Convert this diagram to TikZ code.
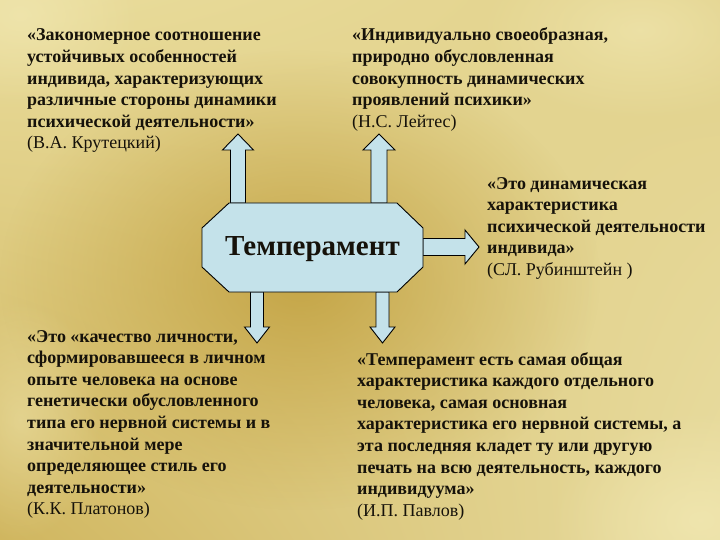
\documentclass[tikz,border=0pt]{standalone}
\usepackage{fontspec}
\setmainfont{Liberation Serif}
\usetikzlibrary{fadings,shadings}
\tikzfading[name=softblob, inner color=transparent!0, outer color=transparent!100]
\definecolor{bgA}{RGB}{233,220,155}
\definecolor{bgB}{RGB}{226,210,140}
\definecolor{bgC}{RGB}{208,182,95}
\definecolor{bgD}{RGB}{232,220,160}
\definecolor{bgDark}{RGB}{190,155,55}
\definecolor{bgLight}{RGB}{240,230,175}
\definecolor{abox}{RGB}{196,226,234}
\definecolor{textc}{RGB}{22,18,10}
\tikzset{
  txt/.style={anchor=base west, align=left, inner sep=0pt,
    font=\fontsize{18}{21.6}\selectfont\bfseries, text=textc},
  barrow/.style={fill=abox, draw=black, line width=0.9pt, line join=miter},
}
\begin{document}
\begin{tikzpicture}[x=1pt,y=-1pt]
\useasboundingbox (0,0) rectangle (720,540);
% background
\shade[upper left=bgA, upper right=bgB, lower left=bgC, lower right=bgD] (0,0) rectangle (720,540);
\fill[bgDark, path fading=softblob, fill opacity=0.8] (300,280) ellipse (300 and 230);
\fill[bgLight, path fading=softblob, fill opacity=0.8] (20,15) ellipse (120 and 90);
\fill[bgLight, path fading=softblob, fill opacity=0.7] (640,30) ellipse (160 and 90);
\fill[bgLight, path fading=softblob, fill opacity=0.9] (700,520) ellipse (150 and 110);
\fill[bgLight, path fading=softblob, fill opacity=0.5] (20,420) ellipse (80 and 120);

% arrows
\draw[barrow] (230.5,203) -- (230.5,150) -- (222.5,150) -- (238,134) -- (253.5,150) -- (245.5,150) -- (245.5,203) -- cycle;
\draw[barrow] (371,203) -- (371,150) -- (363,150) -- (379,134) -- (395,150) -- (387,150) -- (387,203) -- cycle;
\draw[barrow] (250.5,292) -- (250.5,327) -- (244.5,327) -- (257,343) -- (269.5,327) -- (263.5,327) -- (263.5,292) -- cycle;
\draw[barrow] (376,292) -- (376,327) -- (370,327) -- (382.5,343) -- (395,327) -- (389,327) -- (389,292) -- cycle;
\draw[barrow] (423,238.5) -- (465,238.5) -- (465,230) -- (479,247) -- (465,264) -- (465,255.5) -- (423,255.5) -- cycle;

% octagon
\draw[barrow] (229,203) -- (397,203) -- (423,228) -- (423,267) -- (397,292) -- (229,292) -- (202,267) -- (202,228) -- cycle;
\node[font=\fontsize{29}{30}\selectfont\bfseries, text=textc, anchor=base, inner sep=0pt] (temp) at (312.5,255) {Темперамент};

% texts (base anchor = baseline of the last line)
\node[txt] (q1) at (27,149) {«Закономерное соотношение\\устойчивых особенностей\\индивида, характеризующих\\различные стороны динамики\\психической деятельности»\\{\mdseries (В.А. Крутецкий)}};
\node[txt] (q2) at (352,127.4) {«Индивидуально своеобразная,\\природно обусловленная\\совокупность динамических\\проявлений психики»\\{\mdseries (Н.С. Лейтес)}};
\node[txt] (q3) at (487,275.5) {«Это динамическая\\характеристика\\психической деятельности\\индивида»\\{\mdseries (СЛ. Рубинштейн )}};
\node[txt] (q4) at (27,514.8) {«Это «качество личности,\\сформировавшееся в личном\\опыте человека на основе\\генетически обусловленного\\типа его нервной системы и в\\значительной мере\\определяющее стиль его\\деятельности»\\{\mdseries (К.К. Платонов)}};
\node[txt] (q5) at (357,516.2) {«Темперамент есть самая общая\\характеристика каждого отдельного\\человека, самая основная\\характеристика его нервной системы, а\\эта последняя кладет ту или другую\\печать на всю деятельность, каждого\\индивидуума»\\{\mdseries (И.П. Павлов)}};
\end{tikzpicture}
\end{document}
